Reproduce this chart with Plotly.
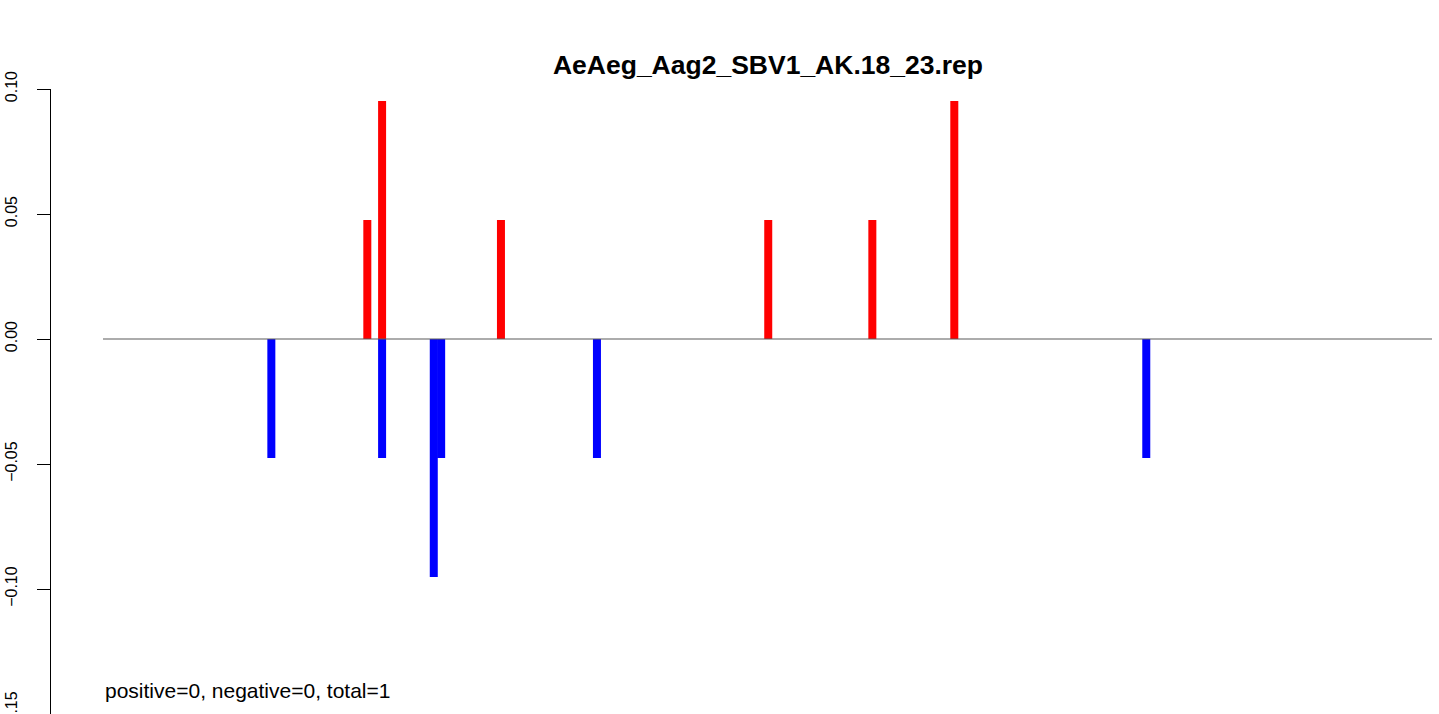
import plotly.graph_objects as go

# ---- data ----
pos_x = [36.8, 38.8, 54.9, 91.1, 105.2, 116.3]
pos_y = [0.0476, 0.0952, 0.0476, 0.0476, 0.0476, 0.0952]
neg_x = [23.8, 38.8, 45.8, 46.8, 67.9, 142.3]
neg_y = [-0.0476, -0.0476, -0.0952, -0.0476, -0.0476, -0.0476]
x_start, x_end = 1, 181
y_ticks = [0.10, 0.05, 0.00, -0.05, -0.10, -0.15]
y_ticktext = ["0.10", "0.05", "0.00", "\u22120.05", "\u22120.10", "\u22120.15"]
title_text = "AeAeg_Aag2_SBV1_AK.18_23.rep"
note_text = "positive=0, negative=0, total=1"

# ---- layout geometry (page pixels; body margin removed via post_script) ----
W, H = 1439, 714
left_px, top_px = 51, 89           # plot-area left / top
line_px0, line_px1 = 103, 1432     # x of the zero line ends
px_per_y = 2500.0                  # px per y unit (0.05 -> 125 px)
u = (line_px1 - line_px0) / (x_end - x_start)
x_lo = x_start - (line_px0 - left_px) / u
x_hi = x_start + (W - line_px0) / u
y_top = 0.10
y_bot = y_top - (H + 1 - top_px) / px_per_y
bar_w = 8 / u

FONT = "Liberation Sans"

fig = go.Figure()
fig.add_trace(go.Scatter(x=[x_start, x_end], y=[0, 0], mode="lines",
                         line=dict(color="#5a5a5a", width=1.1), hoverinfo="skip"))
fig.add_trace(go.Bar(x=pos_x, y=pos_y, width=bar_w, marker=dict(color="#FF0000", line=dict(width=0))))
fig.add_trace(go.Bar(x=neg_x, y=neg_y, width=bar_w, marker=dict(color="#0000FF", line=dict(width=0))))

fig.update_layout(
    width=W, height=H + 1,
    margin=dict(l=left_px, r=0, t=top_px, b=0, autoexpand=False),
    paper_bgcolor="white", plot_bgcolor="white",
    showlegend=False, barmode="overlay",
    font=dict(family=FONT, color="black"),
    title=dict(text="<b>" + title_text + "</b>", x=768 / W, xref="container", xanchor="center",
               y=1 - 65 / (H + 1), yref="container", yanchor="middle",
               font=dict(family=FONT, size=26.5, color="black")),
    xaxis=dict(visible=False, range=[x_lo, x_hi], fixedrange=True),
    yaxis=dict(range=[y_bot, y_top], tickvals=y_ticks, ticktext=y_ticktext,
               showline=True, linecolor="black", linewidth=1,
               ticks="outside", ticklen=13, tickcolor="black", tickwidth=1,
               tickangle=-90, tickfont=dict(family=FONT, size=16, color="black"),
               showgrid=False, zeroline=False, automargin=False, ticklabelstandoff=14,
               ticklabeloverflow="allow", fixedrange=True),
)
fig.add_annotation(text=note_text, x=x_start, xref="x", xanchor="left",
                   y=(H + 1 - 690) / (H + 1 - top_px), yref="paper", yanchor="middle",
                   showarrow=False, font=dict(family=FONT, size=21, color="black"))

fig.write_html("out.html", config={"displayModeBar": False},
               post_script="document.body.style.margin='0';document.body.style.padding='0';")
